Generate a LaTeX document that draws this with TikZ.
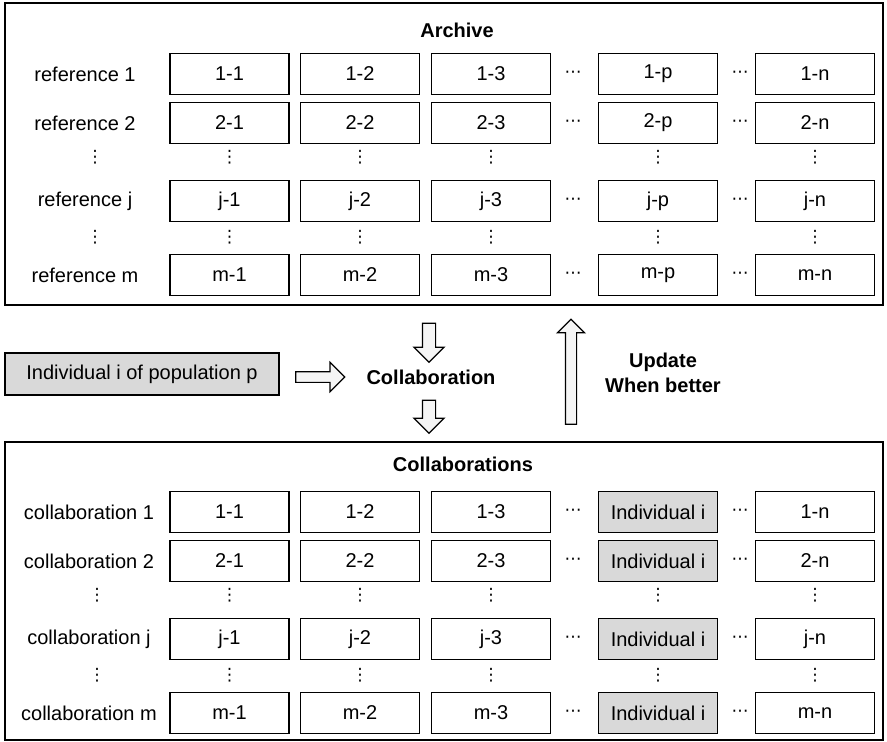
\documentclass[tikz,border=0pt]{standalone}
\usepackage{fontspec}
\setmainfont{Liberation Sans}
\newfontfamily\symfont{DejaVu Sans}
\usetikzlibrary{shapes.arrows}

\newcommand\vdts{⋮}
\newcommand\hdts{⋯}

\begin{document}
\begin{tikzpicture}[x=1pt,y=-1pt,
  every node/.style={font=\fontsize{20}{25}\selectfont},
  cell/.style={draw,line width=1.4pt,minimum width=119pt,minimum height=41pt,inner sep=0pt},
  indiv/.style={cell,fill=black!15},
  frame/.style={draw,line width=1.8pt,inner sep=0pt},
  dts/.style={inner sep=0pt,font=\symfont\fontsize{17}{20}\selectfont},
  title/.style={font=\fontsize{20}{25}\selectfont\bfseries},
  fatarrow/.style={single arrow,draw,line width=1.2pt,fill=black!4}]
\useasboundingbox (0,0) rectangle (887,742);

% archive
\node[frame,minimum width=878pt,minimum height=302pt] (archive) at (444,154) {};
\node[title] (archivetitle) at (457,30) {Archive};
\foreach \r/\y in {1/74,2/123,j/201,m/275} {
  \node (ref\r) at (85,\y) {reference \r};
  \foreach \c/\x in {1/229.5,2/360,3/491,p/658,n/815}
    \node[cell] (a\r\c) at (\x,\y) {\r-\c};
  \node[dts] (ah\r a) at (573,\y) {\hdts};
  \node[dts] (ah\r b) at (740,\y) {\hdts};
}
\foreach \k/\y in {a/157,b/237}
  \foreach \c/\x in {l/95,1/229.5,2/360,3/491,p/658,n/815}
    \node[dts] (av\k\c) at (\x,\y) {\vdts};

% middle
\node[indiv,minimum width=274pt,minimum height=42pt] (indiv) at (142,374) {Individual i of population p};
\node[title] (collab) at (431,377) {Collaboration};
\node[title,align=center] (update) at (663,372.5) {Update\\When better};
\node[fatarrow,inner sep=4.75pt,minimum height=49pt,single arrow head extend=9.25pt] (toright) at (317.5,377) {};
\node[fatarrow,inner sep=6pt,minimum height=39pt,single arrow head extend=8.5pt,shape border rotate=270] (down1) at (429,339.5) {};
\node[fatarrow,inner sep=6pt,minimum height=33pt,single arrow head extend=8.5pt,shape border rotate=270] (down2) at (429,413.5) {};
\node[fatarrow,inner sep=5pt,minimum height=105pt,single arrow head extend=8pt,shape border rotate=90] (up) at (571,374.5) {};

% collaborations
\node[frame,minimum width=878pt,minimum height=298pt] (collabs) at (444,591) {};
\node[title] (collabstitle) at (463,464) {Collaborations};
\foreach \r/\y in {1/512,2/561,j/639,m/713} {
  \node (col\r) at (89,\y) {collaboration \r};
  \foreach \c/\x in {1/229.5,2/360,3/491,n/815}
    \node[cell] (b\r\c) at (\x,\y) {\r-\c};
  \node[indiv] (b\r p) at (658,\y) {Individual i};
  \node[dts] (bh\r a) at (573,\y) {\hdts};
  \node[dts] (bh\r b) at (740,\y) {\hdts};
}
\foreach \k/\y in {a/595,b/675}
  \foreach \c/\x in {l/97,1/229.5,2/360,3/491,p/658,n/815}
    \node[dts] (bv\k\c) at (\x,\y) {\vdts};
\end{tikzpicture}
\end{document}
